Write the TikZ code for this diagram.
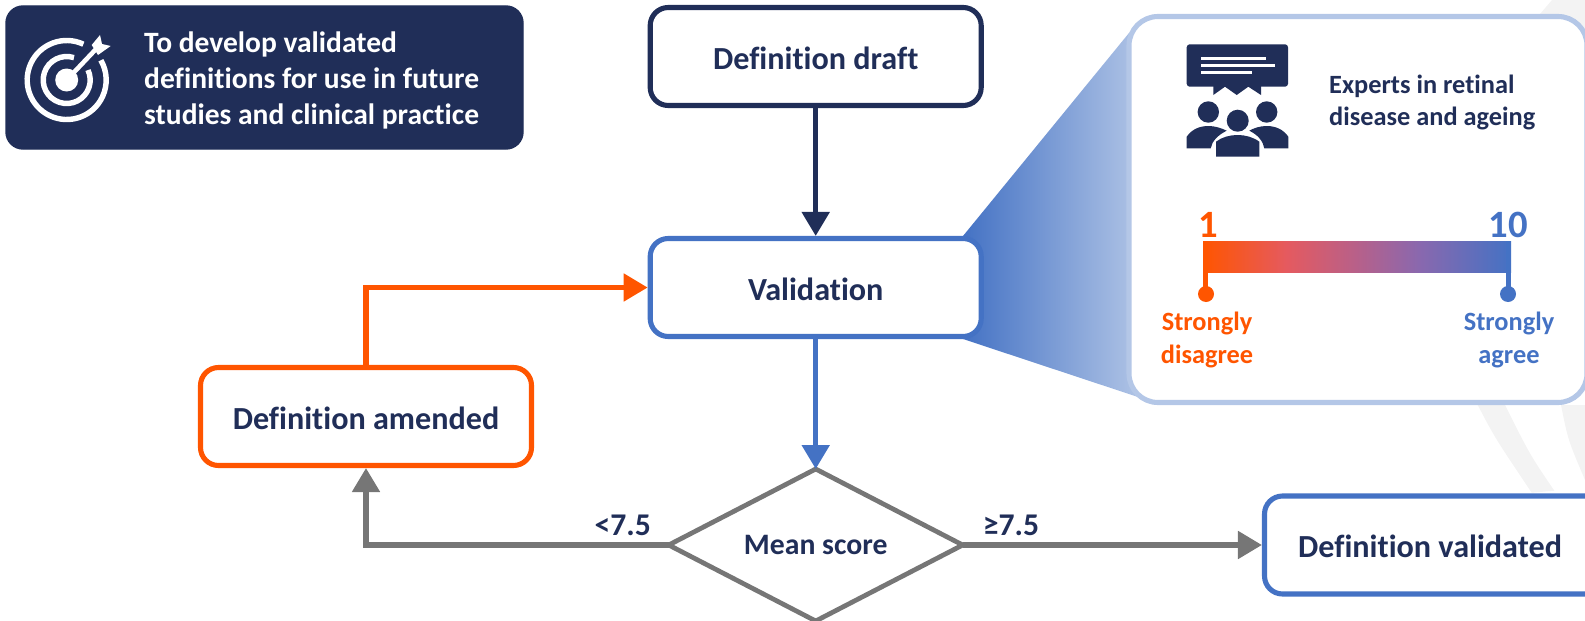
\documentclass[tikz,border=0pt]{standalone}
\usepackage{fontspec}
\setmainfont[Ligatures=CommonOff]{Carlito}
\usepackage{xcolor}
\usetikzlibrary{arrows.meta,shapes.geometric}
\definecolor{navy}{HTML}{202E58}
\definecolor{blueline}{HTML}{4472C4}
\definecolor{bluelight}{HTML}{B4C7E7}
\definecolor{orangeline}{HTML}{FF5500}
\definecolor{grayline}{HTML}{767676}
\definecolor{bgband}{HTML}{F3F3F3}
\definecolor{barone}{HTML}{E55A5F}
\definecolor{bartwo}{HTML}{B96088}
\definecolor{barthree}{HTML}{8A68AE}
\pgfdeclarehorizontalshading{scalebar}{100bp}{color(0bp)=(orangeline); color(25bp)=(orangeline); color(38.5bp)=(barone); color(49.5bp)=(bartwo); color(60bp)=(barthree); color(75bp)=(blueline); color(100bp)=(blueline)}
\tikzset{
  stepbox/.style={draw, line width=1.45pt, rounded corners=0.18cm, fill=white, minimum width=3.31cm, minimum height=0.98cm, inner sep=0pt, text height=0.25cm, text depth=0pt, font=\bfseries\fontsize{9.15}{11}\selectfont, text=navy},
  flow/.style={line width=1.45pt, -{Stealth[inset=0pt,length=0.24cm,width=0.27cm]}},
  small/.style={font=\bfseries\fontsize{7.5}{9.2}\selectfont, align=center, inner sep=0pt},
  cutlabel/.style={font=\bfseries\fontsize{9}{11}\selectfont, text=navy, inner sep=0pt, anchor=base},
}
\begin{document}
\begin{tikzpicture}
\useasboundingbox (0,0) rectangle (15.85,6.2);
% background
\fill[bgband] (15.40,6.06) -- (15.52,6.2) -- (15.85,6.2) -- (15.85,5.9) -- cycle;
\fill[bgband] (14.777,2.15) .. controls (14.95,1.82) .. (15.317,1.273) -- (15.543,1.293) .. controls (15.3,1.65) .. (15.05,2.15) -- cycle;
\fill[bgband] (15.61,2.15) .. controls (15.68,1.8) .. (15.85,1.40) -- (15.85,2.15) -- cycle;
% goal box
\node[draw=navy, fill=navy, rounded corners=0.17cm, minimum width=5.17cm, minimum height=1.43cm, inner sep=0pt] (goal) at (2.645,5.425) {};
\node[anchor=west, align=left, inner sep=0pt, text=white, font=\bfseries\fontsize{8.4}{10.2}\selectfont] (goaltext) at (1.435,5.395) {To develop validated\\definitions for use in future\\studies and clinical practice};
% target icon
\draw[white, line width=1.55pt] (0.667,5.40) ++(72:0.235) arc (72:385:0.235);
\draw[white, line width=1.55pt] (0.667,5.40) ++(65:0.395) arc (65:390:0.395);
\fill[white] (0.667,5.40) circle (0.115);
\draw[white, line width=1.3pt] (0.667,5.40) -- (0.97,5.72);
\fill[white] (0.917,5.75) -- (1.00,5.85) -- (1.02,5.76) -- (1.107,5.74) -- (0.98,5.65) -- cycle;
% panel funnel
\shade[left color=blueline, right color=bluelight, shading=axis] (9.63,3.84) -- (11.29,5.87) -- (11.47,5.8) -- (11.47,2.2) -- (9.63,2.81) -- cycle;
\draw[bluelight, line width=1.45pt, fill=white, rounded corners=0.29cm] (11.29,6.035) rectangle (15.87,2.175);
% flow nodes
\node[stepbox, draw=navy] (draft) at (8.157,5.635) {Definition draft};
\node[stepbox, draw=blueline] (valid) at (8.157,3.325) {Validation};
\node[stepbox, draw=orangeline] (amend) at (3.66,2.035) {Definition amended};
\node[diamond, aspect=1.9, draw=grayline, line width=1.35pt, fill=white, minimum width=2.94cm, minimum height=1.52cm, inner sep=0pt, outer sep=0pt, font=\bfseries\fontsize{8.45}{10}\selectfont, text=navy] (mean) at (8.157,0.75) {Mean score};
\node[stepbox, draw=blueline, minimum width=3.41cm] (done) at (14.35,0.75) {\hspace*{-0.1cm}Definition validated};
% connectors
\draw[flow, navy] (draft) -- (valid);
\draw[flow, blueline] (valid) -- (mean);
\draw[flow, orangeline] (amend.north) |- (valid.west);
\draw[flow, grayline] (mean.west) -| (amend.south);
\draw[flow, grayline] (mean.east) -- (done.west);
\node[cutlabel] (lowlab) at (6.228,0.85) {<7.5};
\node[cutlabel] (highlab) at (10.11,0.85) {≥7.5};
% experts icon
\fill[navy, rounded corners=0.03cm] (11.867,5.757) rectangle (12.88,5.333);
\fill[navy] (12.133,5.34) -- (12.133,5.25) -- (12.25,5.333) -- (12.367,5.25) -- (12.483,5.333) -- (12.61,5.25) -- (12.61,5.34) -- cycle;
\draw[white, line width=0.75pt] (12.01,5.617) -- (12.66,5.617) (12.01,5.547) -- (12.75,5.547) (12.01,5.477) -- (12.523,5.477);
\fill[navy] (12.083,5.08) circle (0.107) (12.667,5.08) circle (0.107);
\fill[navy] (11.867,4.717) -- (11.867,4.833) .. controls (11.92,4.91) and (12.0,4.94) .. (12.083,4.94) .. controls (12.15,4.94) and (12.21,4.92) .. (12.267,4.893) .. controls (12.18,4.85) and (12.12,4.79) .. (12.107,4.717) -- cycle;
\fill[navy] (12.883,4.717) -- (12.883,4.833) .. controls (12.83,4.91) and (12.75,4.94) .. (12.667,4.94) .. controls (12.6,4.94) and (12.54,4.92) .. (12.493,4.893) .. controls (12.58,4.85) and (12.63,4.79) .. (12.643,4.717) -- cycle;
\fill[navy] (12.377,4.993) circle (0.11);
\fill[navy] (12.16,4.633) -- (12.16,4.783) .. controls (12.22,4.83) and (12.3,4.85) .. (12.377,4.85) .. controls (12.45,4.85) and (12.53,4.83) .. (12.593,4.783) -- (12.593,4.633) -- cycle;
\node[anchor=west, align=left, inner sep=0pt, text=navy, font=\bfseries\fontsize{7.5}{9.2}\selectfont] (experts) at (13.285,5.175) {Experts in retinal\\disease and ageing};
% scale
\shade[shading=scalebar] (12.03,3.48) rectangle (15.11,3.79);
\draw[orangeline, line width=1.4pt] (12.055,3.79) -- (12.055,3.26);
\draw[blueline, line width=1.4pt] (15.085,3.79) -- (15.085,3.26);
\fill[orangeline] (12.06,3.26) circle (0.08);
\fill[blueline] (15.08,3.26) circle (0.08);
\node[text=orangeline, font=\bfseries\fontsize{11}{13}\selectfont, inner sep=0pt] (one) at (12.08,3.95) {1};
\node[text=blueline, font=\bfseries\fontsize{11}{13}\selectfont, inner sep=0pt] (ten) at (15.08,3.95) {10};
\node[small, text=orangeline] (disagree) at (12.07,2.80) {Strongly\\disagree};
\node[small, text=blueline] (agree) at (15.09,2.80) {Strongly\\agree};
\end{tikzpicture}
\end{document}
